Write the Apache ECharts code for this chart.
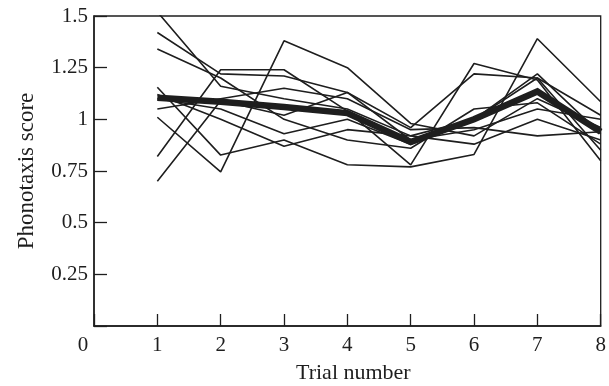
<!DOCTYPE html>
<html>
<head>
<meta charset="utf-8">
<script src="https://cdn.jsdelivr.net/npm/echarts@6/dist/echarts.min.js"></script>
<style>
html,body{margin:0;padding:0;background:#fff;}
#chart{width:609px;height:386px;}
</style>
</head>
<body>
<div id="chart"></div>
<script>
// Trial numbers (x) and tick labels
const trials = [1, 2, 3, 4, 5, 6, 7, 8];
const xTicks = [0, 1, 2, 3, 4, 5, 6, 7, 8];
const yTicks = [0, 0.25, 0.5, 0.75, 1, 1.25, 1.5];

// Individual phonotaxis scores (thin lines)
const frog1  = [1.52, 1.16, 1.10, 1.05, 0.92, 1.00, 1.20, 1.02];
const frog2  = [1.42, 1.22, 1.21, 1.13, 0.96, 1.22, 1.20, 0.85];
const frog3  = [1.34, 1.20, 1.00, 0.90, 0.86, 1.05, 1.08, 0.88];
const frog4  = [1.155, 0.827, 0.90, 0.78, 0.77, 0.83, 1.39, 1.085];
const frog5  = [1.05, 1.10, 1.15, 1.10, 0.95, 0.96, 0.92, 0.94];
const frog6  = [1.01, 0.746, 1.38, 1.25, 0.98, 0.92, 1.10, 0.96];
const frog7  = [0.82, 1.24, 1.24, 1.04, 0.78, 1.27, 1.19, 0.80];
const frog8  = [0.70, 1.09, 1.02, 1.13, 0.90, 0.95, 1.05, 1.00];
const frog9  = [1.10, 1.05, 0.93, 1.00, 0.88, 1.00, 1.22, 0.93];
const frog10 = [1.12, 1.00, 0.87, 0.95, 0.92, 0.88, 1.00, 0.90];

// Mean score (thick line)
const meanScore = [1.105, 1.085, 1.06, 1.03, 0.89, 1.00, 1.135, 0.94];

const individuals = [frog1, frog2, frog3, frog4, frog5, frog6, frog7, frog8, frog9, frog10];

const FONT = '"Liberation Serif", "DejaVu Serif", serif';
const INK = '#1e1e1e';

function pairs(vals) { return trials.map((t, i) => [t, vals[i]]); }

const series = individuals.map(vals => ({
  type: 'line',
  data: pairs(vals),
  symbol: 'none',
  silent: true,
  clip: true,
  lineStyle: { color: INK, width: 1.6 },
  z: 2
}));
series.push({
  type: 'line',
  data: pairs(meanScore),
  symbol: 'none',
  silent: true,
  clip: true,
  lineStyle: { color: INK, width: 6.5, join: 'miter' },
  z: 3
});

const chart = echarts.init(document.getElementById('chart'), null, { renderer: 'canvas' });
chart.setOption({
  animation: false,
  backgroundColor: '#fff',
  grid: {
    left: 94, right: 8.3, top: 16, bottom: 60,
    containLabel: false,
    outerBoundsMode: 'none',
    show: true, borderColor: INK, borderWidth: 1.3, backgroundColor: 'transparent'
  },
  xAxis: {
    type: 'value',
    min: xTicks[0], max: xTicks[xTicks.length - 1], interval: 1,
    name: 'Trial number',
    nameLocation: 'middle',
    nameGap: 36,
    nameTextStyle: { fontFamily: FONT, fontSize: 22, color: INK, padding: [0, 0, 0, 12] },
    axisLine: { show: true, lineStyle: { color: INK, width: 1.5 } },
    axisTick: { show: true, inside: true, length: 12, lineStyle: { color: INK, width: 1.3 } },
    splitLine: { show: false },
    axisLabel: {
      margin: 9,
      fontFamily: FONT, fontSize: 21, color: INK,
      formatter: v => v === 0 ? '{z|0}' : String(v),
      rich: { z: { fontFamily: FONT, fontSize: 21, color: INK, padding: [0, 22, 0, 0] } }
    }
  },
  yAxis: {
    type: 'value',
    min: yTicks[0], max: yTicks[yTicks.length - 1], interval: 0.25,
    name: 'Phonotaxis score',
    nameLocation: 'middle',
    nameGap: 56,
    nameRotate: 90,
    nameTextStyle: { fontFamily: FONT, fontSize: 23, color: INK },
    axisLine: { show: true, lineStyle: { color: INK, width: 1.5 } },
    axisTick: { show: true, inside: true, length: 13, lineStyle: { color: INK, width: 1.3 } },
    splitLine: { show: false },
    axisLabel: {
      margin: 6,
      fontFamily: FONT, fontSize: 21, color: INK,
      formatter: v => v === 0 ? '' : String(v)
    }
  },
  series: series
});
</script>
</body>
</html>
